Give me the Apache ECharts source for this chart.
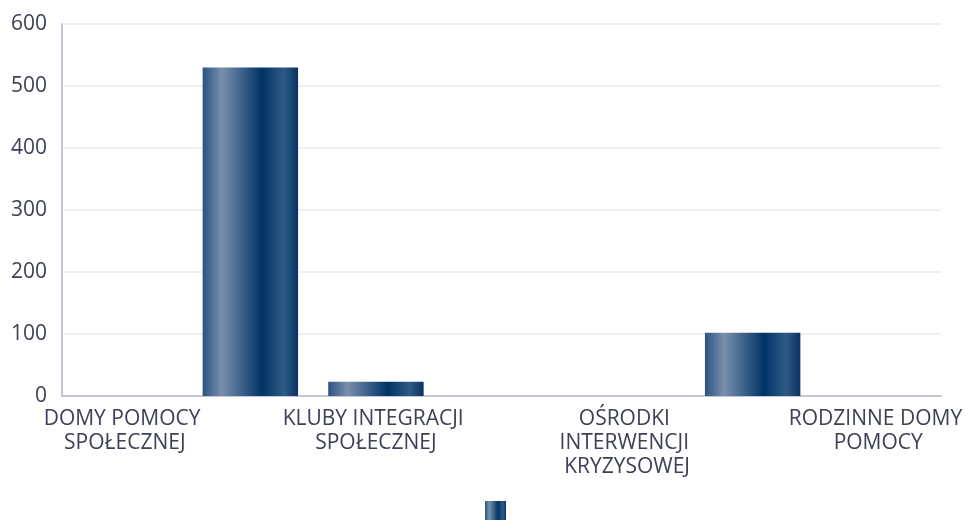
<!DOCTYPE html>
<html>
<head>
<meta charset="utf-8">
<script src="https://cdn.jsdelivr.net/npm/echarts@6/dist/echarts.min.js"></script>
<style>
  html, body { margin: 0; padding: 0; background: #fff; }
  #chart { width: 977px; height: 520px; }
</style>
</head>
<body>
<div id="chart"></div>
<script>
// Facility types (every other label is shown on the axis)
const categories = [
  'DOMY POMOCY SPOŁECZNEJ',
  'DZIENNE DOMY POMOCY',
  'KLUBY INTEGRACJI SPOŁECZNEJ',
  'MIESZKANIA CHRONIONE',
  'OŚRODKI INTERWENCJI KRYZYSOWEJ',
  'OŚRODKI WSPARCIA',
  'RODZINNE DOMY POMOCY'
];
const values = [0, 530, 23, 0, 0, 102, 0];
const seriesName = 'Liczba';

const textColor = '#3e4057';
const fontFamily = '"Open Sans", "Noto Sans", sans-serif';

// Metallic horizontal gradient used for bars and the legend swatch
const barFill = new echarts.graphic.LinearGradient(0, 0, 1, 0, [
  { offset: 0.00, color: '#2b5380' },
  { offset: 0.20, color: '#7890ab' },
  { offset: 0.40, color: '#40648c' },
  { offset: 0.62, color: '#003366' },
  { offset: 0.85, color: '#2f5a86' },
  { offset: 1.00, color: '#0b3262' }
]);

const chart = echarts.init(document.getElementById('chart'));
chart.setOption({
  animation: false,
  textStyle: { fontFamily: fontFamily },
  grid: {
    left: 62, right: 36, top: 24, bottom: 124,
    containLabel: false,
    outerBoundsMode: 'none'
  },
  legend: {
    data: [{ name: seriesName, icon: 'rect' }],
    left: 485,
    top: 501,
    itemWidth: 21,
    itemHeight: 20,
    itemGap: 0,
    formatter: () => '',
    padding: 0
  },
  xAxis: {
    type: 'category',
    data: categories,
    axisLine: { lineStyle: { color: '#c4c6d8', width: 2 } },
    axisTick: { show: false },
    axisLabel: {
      interval: 1,
      color: textColor,
      fontSize: 21,
      lineHeight: 24,
      width: 230,
      overflow: 'break',
      margin: 11
    }
  },
  yAxis: {
    type: 'value',
    min: 0,
    max: 600,
    interval: 100,
    axisLine: { show: true, lineStyle: { color: '#c4c6d8', width: 2 } },
    axisTick: { show: false },
    splitLine: { lineStyle: { color: '#ebebf1', width: 1.5 } },
    axisLabel: { color: textColor, fontSize: 21, margin: 15 }
  },
  series: [{
    name: seriesName,
    type: 'bar',
    data: values,
    barWidth: '76%',
    itemStyle: { color: barFill }
  }]
});
</script>
</body>
</html>
